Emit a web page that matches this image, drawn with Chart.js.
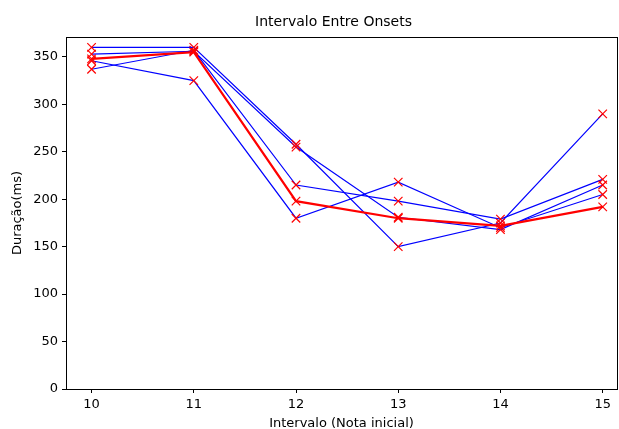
<!DOCTYPE html>
<html>
<head>
<meta charset="utf-8">
<script src="https://cdn.jsdelivr.net/npm/chart.js@4"></script>
<style>
  html, body { margin: 0; padding: 0; background: #fff; }
  #wrap { width: 619px; height: 429px; }
</style>
</head>
<body>
<div id="wrap"><canvas id="onsets" width="619" height="429"></canvas></div>
<script>
// intervals (starting note) on the x axis
const intervals = [10, 11, 12, 13, 14, 15];

// duration in ms per take
const takeA = [360, 360, 258, 150, 175, 290];
const takeB = [353, 356, 255, 181, 168, 215];
const takeC = [337, 357, 215, 198, 179, 221];
const takeD = [346, 325, 180, 218, 170, 205];
const reference = [348, 355, 198, 180, 172, 192];

const xTicks = [10, 11, 12, 13, 14, 15];
const yTicks = [0, 50, 100, 150, 200, 250, 300, 350];

const plotTitle = "Intervalo Entre Onsets";

Chart.defaults.font.family = "'DejaVu Sans', sans-serif";
Chart.defaults.color = "#000";

function toPoints(values) {
  return intervals.map((x, i) => ({ x, y: values[i] }));
}

function takeDataset(values) {
  return {
    data: toPoints(values),
    borderColor: "#0000ff",
    borderWidth: 1.2,
    pointStyle: "crossRot",
    pointRadius: 6,
    pointBorderColor: "#ff0000",
    pointBorderWidth: 1.2,
    pointBackgroundColor: "#ff0000",
    tension: 0,
    order: 2,
  };
}

// matplotlib-like frame and a title centred over the axes
const frame = {
  id: "frame",
  afterDraw(chart) {
    const { ctx, chartArea: a } = chart;
    ctx.save();
    ctx.strokeStyle = "#000";
    ctx.lineWidth = 1;
    ctx.strokeRect(
      Math.round(a.left) + 0.5,
      Math.round(a.top) + 0.5,
      Math.round(a.right - a.left),
      Math.round(a.bottom - a.top),
    );
    ctx.fillStyle = "#000";
    ctx.font = "14px 'DejaVu Sans', sans-serif";
    ctx.textAlign = "center";
    ctx.textBaseline = "middle";
    ctx.fillText(plotTitle, (a.left + a.right) / 2 - 8, 22);
    ctx.restore();
  },
};

new Chart(document.getElementById("onsets"), {
  type: "line",
  data: {
    datasets: [
      {
        data: toPoints(reference),
        borderColor: "#ff0000",
        borderWidth: 2.2,
        pointStyle: "crossRot",
        pointRadius: 6,
        pointBorderColor: "#ff0000",
        pointBorderWidth: 1.2,
        tension: 0,
        order: 1,
      },
      takeDataset(takeA),
      takeDataset(takeB),
      takeDataset(takeC),
      takeDataset(takeD),
    ],
  },
  options: {
    responsive: false,
    animation: false,
    devicePixelRatio: 1,
    layout: {
      autoPadding: false,
      padding: { left: 0, right: 2, top: 37, bottom: 0 },
    },
    plugins: {
      legend: { display: false },
      tooltip: { enabled: false },
      title: { display: false },
    },
    scales: {
      x: {
        type: "linear",
        min: 9.75,
        max: 15.14,
        afterBuildTicks: (scale) => {
          scale.ticks = xTicks.map((value) => ({ value }));
        },
        afterFit: (scale) => {
          scale.height = 40;
          scale.paddingLeft = 0;
          scale.paddingRight = 0;
        },
        ticks: { font: { size: 13 }, padding: 4, maxRotation: 0 },
        grid: {
          drawOnChartArea: false,
          tickLength: 4,
          color: "#000",
        },
        border: { display: false },
        title: {
          display: true,
          text: "Intervalo (Nota inicial)",
          font: { size: 13 },
          padding: { top: 0, bottom: -2 },
        },
      },
      y: {
        min: 0,
        max: 371,
        afterBuildTicks: (scale) => {
          scale.ticks = yTicks.map((value) => ({ value }));
        },
        afterFit: (scale) => {
          scale.width = 66;
          scale.paddingTop = 0;
          scale.paddingBottom = 0;
        },
        ticks: { font: { size: 13 }, padding: 4 },
        grid: {
          drawOnChartArea: false,
          tickLength: 4,
          color: "#000",
        },
        border: { display: false },
        title: {
          display: true,
          text: "Duração(ms)",
          font: { size: 13 },
          padding: { top: 10, bottom: 0 },
        },
      },
    },
  },
  plugins: [frame],
});
</script>
</body>
</html>
